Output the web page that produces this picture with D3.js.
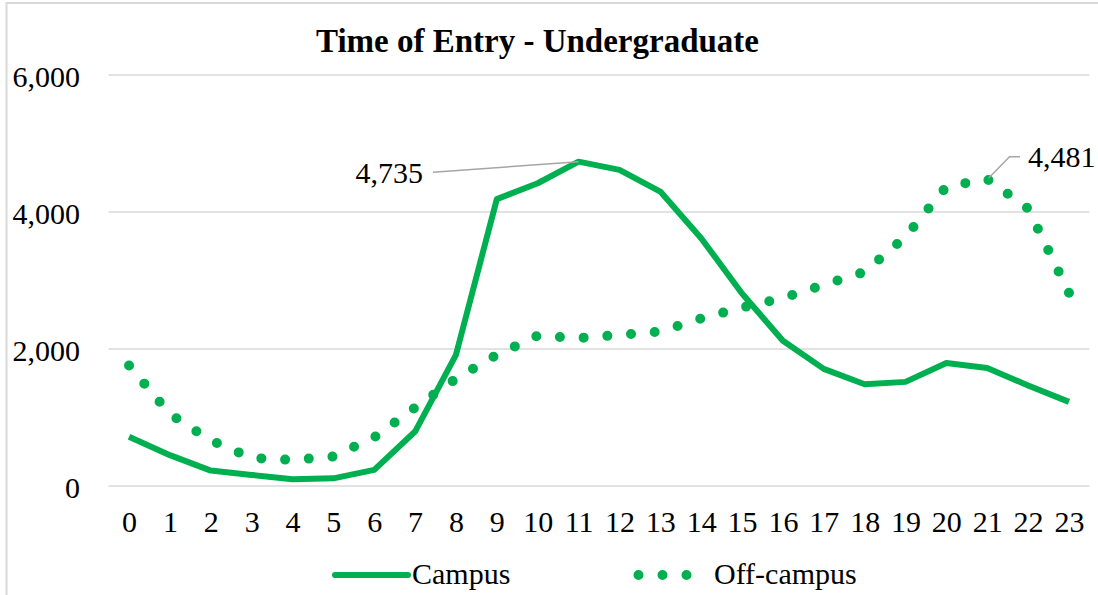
<!DOCTYPE html>
<html>
<head>
<meta charset="utf-8">
<script src="https://cdn.jsdelivr.net/npm/d3@7"></script>
<style>
  body { margin: 0; background: #fff; }
  text { font-family: "Liberation Serif", "Times New Roman", serif; fill: #000; }
</style>
</head>
<body>
<script>
// hours of the day on the category axis
var hours = d3.range(0, 24);

// entries per hour
var campus = [720, 450, 225, 162, 100, 112, 235, 795, 1915, 4188, 4420, 4735, 4615, 4298, 3618, 2810, 2120, 1710, 1485, 1520, 1795, 1722, 1468, 1228];
var offCampus = [1760, 1050, 665, 410, 380, 430, 710, 1145, 1565, 1915, 2195, 2160, 2205, 2255, 2445, 2605, 2745, 2935, 3125, 3640, 4370, 4481, 4050, 2820];

var yTicks = [0, 2000, 4000, 6000];
var seriesNames = ["Campus", "Off-campus"];
var title = "Time of Entry - Undergraduate";

var width = 1098, height = 595;
var green = "#00B050";
var grey = "#D9D9D9";

var svg = d3.select("body").append("svg")
    .attr("width", width)
    .attr("height", height);

// chart frame (only top and left edges are visible in the crop)
svg.append("rect")
    .attr("x", 6.5)
    .attr("y", 3)
    .attr("width", width + 20)
    .attr("height", height + 20)
    .attr("fill", "none")
    .attr("stroke", grey)
    .attr("stroke-width", 2);

// the x scale: each hour sits in the middle of its slot
var x = d3.scaleLinear()
    .domain([-0.5, 23.5])
    .range([108.6, 1089.4]);

var y = d3.scaleLinear()
    .domain([0, 6000])
    .range([486, 75]);

// gridlines
svg.append("g")
    .selectAll("line")
    .data(yTicks)
    .enter().append("line")
      .attr("x1", x.range()[0])
      .attr("x2", x.range()[1])
      .attr("y1", function(d) { return y(d); })
      .attr("y2", function(d) { return y(d); })
      .attr("stroke", grey)
      .attr("stroke-width", 1.5);

// y axis labels
var yAxis = d3.axisLeft(y)
    .tickValues(yTicks)
    .tickSize(0)
    .tickPadding(0)
    .tickFormat(d3.format(","));

svg.append("g")
    .attr("transform", "translate(80,0)")
    .call(yAxis)
    .call(function(g) { g.select(".domain").remove(); })
    .selectAll("text")
      .attr("font-family", "Liberation Serif")
      .attr("font-size", 30)
      .attr("dy", "0.37em");

// x axis labels
var xAxis = d3.axisBottom(x)
    .tickValues(hours)
    .tickSize(0)
    .tickPadding(0)
    .tickFormat(d3.format("d"));

svg.append("g")
    .attr("transform", "translate(0,511)")
    .call(xAxis)
    .call(function(g) { g.select(".domain").remove(); })
    .selectAll("text")
      .attr("font-family", "Liberation Serif")
      .attr("font-size", 30)
      .attr("dy", "0.7em");

// title
svg.append("text")
    .attr("x", 537.5)
    .attr("y", 52)
    .attr("text-anchor", "middle")
    .style("font-size", "33px")
    .style("font-weight", "bold")
    .text(title);

var line = d3.line()
    .x(function(d, i) { return x(hours[i]); })
    .y(function(d) { return y(d); });

// off-campus: round dotted line, spacing stretched so a dot lands on both ends
var dotted = svg.append("path")
    .datum(offCampus)
    .attr("d", line)
    .attr("fill", "none")
    .attr("stroke", green)
    .attr("stroke-width", 10)
    .attr("stroke-linecap", "round");
var len = dotted.node().getTotalLength();
var gap = len / Math.round(len / 24);
dotted.attr("stroke-dasharray", "0," + gap);

// campus: solid line
svg.append("path")
    .datum(campus)
    .attr("d", line)
    .attr("fill", "none")
    .attr("stroke", green)
    .attr("stroke-width", 6)
    .attr("stroke-linejoin", "round");

// data labels with leader lines
var iMax = campus.indexOf(d3.max(campus));
var px = x(hours[iMax]), py = y(campus[iMax]);
svg.append("line")
    .attr("x1", 433).attr("y1", 172.3)
    .attr("x2", px).attr("y2", py)
    .attr("stroke", "#A6A6A6")
    .attr("stroke-width", 1.5);
svg.append("text")
    .attr("x", 423)
    .attr("y", 183)
    .attr("text-anchor", "end")
    .style("font-size", "30px")
    .text(d3.format(",")(campus[iMax]));

var jMax = offCampus.indexOf(d3.max(offCampus));
var qx = x(hours[jMax]), qy = y(offCampus[jMax]);
svg.append("polyline")
    .attr("points", [[qx + 1.5, qy - 1], [1009.5, 156.7], [1020, 156.7]].join(" "))
    .attr("fill", "none")
    .attr("stroke", "#A6A6A6")
    .attr("stroke-width", 1.5);
svg.append("text")
    .attr("x", 1028)
    .attr("y", 167)
    .style("font-size", "30px")
    .text(d3.format(",")(offCampus[jMax]));

// legend
var legend = svg.append("g");
legend.append("line")
    .attr("x1", 335).attr("x2", 408)
    .attr("y1", 575).attr("y2", 575)
    .attr("stroke", green)
    .attr("stroke-width", 6)
    .attr("stroke-linecap", "round");
legend.append("text")
    .attr("x", 412)
    .attr("y", 584)
    .style("font-size", "30px")
    .text(seriesNames[0]);
legend.append("line")
    .attr("x1", 638.5).attr("x2", 686.6)
    .attr("y1", 575).attr("y2", 575)
    .attr("stroke", green)
    .attr("stroke-width", 10)
    .attr("stroke-linecap", "round")
    .attr("stroke-dasharray", "0,24");
legend.append("text")
    .attr("x", 714)
    .attr("y", 584)
    .style("font-size", "30px")
    .text(seriesNames[1]);
</script>
</body>
</html>
